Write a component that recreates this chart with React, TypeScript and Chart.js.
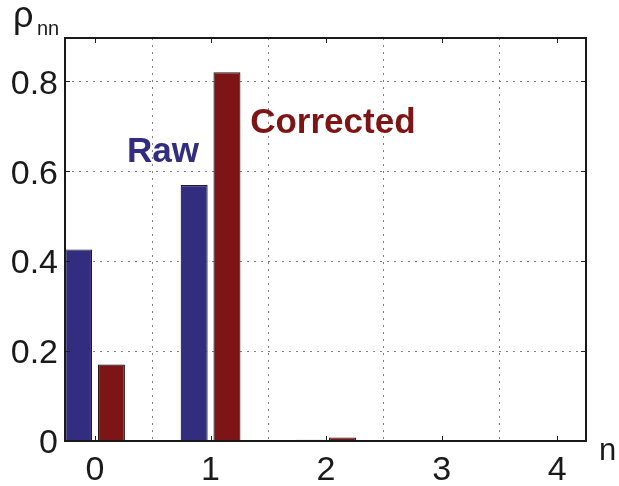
import React, { useEffect, useRef } from 'react';
import { Chart, registerables } from 'chart.js';

Chart.register(...registerables);

const categories = [0, 1, 2, 3, 4];
const rawValues = [0.426, 0.569, 0.003, 0, 0];
const correctedValues = [0.17, 0.82, 0.008, 0, 0];
const yTicks = [0, 0.2, 0.4, 0.6, 0.8];
const xTicks = [0, 1, 2, 3, 4];
const seriesLabels = ['Raw', 'Corrected'];
const yAxisLabel = 'ρ';
const yAxisSub = 'nn';
const xAxisLabel = 'n';

const FONT = "'Liberation Sans', Arial, Helvetica, sans-serif";
const BLUE = '#332D80';
const RED = '#7D1416';

const boxPlugin = {
  id: 'boxPlugin',
  afterDatasetsDraw(chart: any) {
    const { ctx, chartArea: a, scales } = chart;
    const xs = scales.x;
    const ys = scales.y;
    ctx.save();
    // inner tick marks
    ctx.strokeStyle = '#222';
    ctx.lineWidth = 1;
    ctx.beginPath();
    xTicks.forEach((v) => {
      const px = Math.round(xs.getPixelForValue(v)) + 0.5;
      ctx.moveTo(px, a.bottom);
      ctx.lineTo(px, a.bottom - 5);
      ctx.moveTo(px, a.top);
      ctx.lineTo(px, a.top + 5);
    });
    yTicks.forEach((v) => {
      const py = Math.round(ys.getPixelForValue(v)) + 0.5;
      ctx.moveTo(a.left, py);
      ctx.lineTo(a.left + 5, py);
      ctx.moveTo(a.right, py);
      ctx.lineTo(a.right - 5, py);
    });
    ctx.stroke();
    // box
    ctx.strokeStyle = '#1a1a1a';
    ctx.lineWidth = 2;
    ctx.strokeRect(a.left, a.top, a.right - a.left, a.bottom - a.top);

    // annotations
    ctx.font = `bold 35px ${FONT}`;
    ctx.textBaseline = 'alphabetic';
    ctx.textAlign = 'left';
    ctx.fillStyle = BLUE;
    ctx.fillText(seriesLabels[0], xs.getPixelForValue(0.277), ys.getPixelForValue(0.62));
    ctx.fillStyle = RED;
    ctx.fillText(seriesLabels[1], xs.getPixelForValue(1.343), ys.getPixelForValue(0.684));

    // axis labels
    ctx.fillStyle = '#1a1a1a';
    ctx.font = `36px ${FONT}`;
    ctx.fillText(yAxisLabel, 13, 27);
    ctx.font = `20px ${FONT}`;
    ctx.fillText(yAxisSub, 37, 35);
    ctx.font = `31px ${FONT}`;
    ctx.fillText(xAxisLabel, 599, 460);
    ctx.restore();
  },
};

export default function App() {
  const ref = useRef<HTMLCanvasElement>(null);
  useEffect(() => {
    if (!ref.current) return;
    const chart = new Chart(ref.current, {
      type: 'bar',
      data: {
        datasets: [
          {
            label: seriesLabels[0],
            data: categories.map((c, i) => ({ x: c, y: rawValues[i] })),
            backgroundColor: BLUE,
            borderColor: '#1c1c2a',
            borderWidth: 1.2,
          },
          {
            label: seriesLabels[1],
            data: categories.map((c, i) => ({ x: c, y: correctedValues[i] })),
            backgroundColor: RED,
            borderColor: '#2a1515',
            borderWidth: 1.2,
          },
        ],
      },
      options: {
        animation: false,
        responsive: false,
        maintainAspectRatio: false,
        categoryPercentage: 0.568,
        barPercentage: 0.823,
        layout: { padding: { top: 38, right: 33, left: 0, bottom: 0 } },
        plugins: { legend: { display: false }, tooltip: { enabled: false } },
        scales: {
          x: {
            type: 'linear',
            min: -0.26,
            max: 4.25,
            offset: false,
            afterBuildTicks: (s: any) => {
              s.ticks = xTicks.map((v) => ({ value: v }));
            },
            afterFit: (s: any) => {
              s.height = 45;
            },
            ticks: {
              autoSkip: false,
              maxRotation: 0,
              padding: 9,
              color: '#1a1a1a',
              font: { family: FONT, size: 34 },
              callback: (v: any) => String(v),
            },
            grid: {
              drawTicks: false,
              color: '#808080',
              lineWidth: 1,
            },
            border: { display: false, dash: [2, 5] },
          },
          y: {
            type: 'linear',
            min: 0,
            max: 0.896,
            afterBuildTicks: (s: any) => {
              s.ticks = yTicks.map((v) => ({ value: v }));
            },
            afterFit: (s: any) => {
              s.width = 65;
            },
            ticks: {
              padding: 7,
              labelOffset: 3,
              color: '#1a1a1a',
              font: { family: FONT, size: 34 },
              callback: (v: any) => (v === 0 ? '0' : Number(v).toFixed(1)),
            },
            grid: {
              drawTicks: false,
              color: '#808080',
              lineWidth: 1,
            },
            border: { display: false, dash: [2, 5] },
          },
        },
      } as any,
      plugins: [boxPlugin],
    });
    return () => chart.destroy();
  }, []);
  return (
    <div style={{ position: 'absolute', left: 0, top: 0, width: 619, height: 486, background: '#fff' }}>
      <canvas ref={ref} width={619} height={486} style={{ width: 619, height: 486 }} />
    </div>
  );
}
